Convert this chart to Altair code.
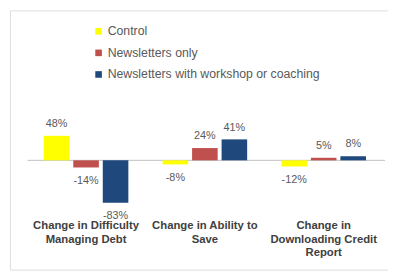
import altair as alt
import pandas as pd

categories = ["Change in Difficulty Managing Debt", "Change in Ability to Save", "Change in Downloading Credit Report"]
category_lines = ["Change in Difficulty\nManaging Debt", "Change in Ability to\nSave", "Change in\nDownloading Credit\nReport"]
series = ["Control", "Newsletters only", "Newsletters with workshop or coaching"]
control = [48, -8, -12]
newsletters_only = [-14, 24, 5]
newsletters_workshop = [-83, 41, 8]
colors = ["#FFFF00", "#C0504D", "#1F497D"]

rows = []
for s, vals in zip(series, [control, newsletters_only, newsletters_workshop]):
    for c, v in zip(categories, vals):
        rows.append({"category": c, "series": s, "value": v, "label": f"{v}%"})
df = pd.DataFrame(rows)
cat_df = pd.DataFrame({"category": categories, "text": category_lines})

W, H = 385, 264
x_scale = alt.Scale(domain=categories, range=[17, 380], paddingInner=0, paddingOuter=0)
y_scale = alt.Scale(domain=[-214, 293.6], nice=False, zero=False)
xo_scale = alt.Scale(domain=series, paddingInner=0.133, paddingOuter=0.58)

base = alt.Chart(df).encode(
    x=alt.X("category:N", scale=x_scale, axis=None, sort=categories),
    xOffset=alt.XOffset("series:N", scale=xo_scale, sort=series),
    y=alt.Y("value:Q", scale=y_scale, axis=None),
)

bars = base.mark_bar().encode(
    color=alt.Color("series:N", scale=alt.Scale(domain=series, range=colors),
                    legend=alt.Legend(title=None, orient="none", legendX=84, legendY=15,
                                      symbolType="square", symbolSize=45, symbolStrokeWidth=0,
                                      labelFontSize=12.5, labelColor="#595959", labelFont="Liberation Sans",
                                      labelLimit=0, rowPadding=9, labelOffset=3, padding=0))
)

pos_labels = base.mark_text(baseline="bottom", dy=-7, fontSize=11, color="#595959", font="Liberation Sans").encode(
    text="label:N"
).transform_filter("datum.value >= 0")

neg_labels = base.mark_text(baseline="top", dy=8, fontSize=11, color="#595959", font="Liberation Sans").encode(
    text="label:N"
).transform_filter("datum.value < 0")

zero_line = alt.Chart(pd.DataFrame({"z": [0]})).mark_rule(color="#BFBFBF", strokeWidth=1).encode(
    y=alt.Y("z:Q", scale=y_scale, axis=None),
    x=alt.value(18), x2=alt.value(382)
)

cat_labels = alt.Chart(cat_df).mark_text(
    baseline="top", fontSize=11.5, fontWeight="bold", color="#404040",
    font="Liberation Sans", lineBreak="\n", lineHeight=13.5, align="center"
).encode(
    x=alt.X("category:N", scale=x_scale, axis=None, sort=categories),
    y=alt.value(214),
    text="text:N"
)

chart = alt.layer(zero_line, bars, pos_labels, neg_labels, cat_labels).properties(
    width=W, height=H, padding={"left": 2, "top": 0, "right": 0, "bottom": 0}
).configure_view(stroke="#D0D0D0", strokeWidth=1.5).configure(background="white")

chart.save("out.html", embed_options={"renderer": "svg", "actions": False})
